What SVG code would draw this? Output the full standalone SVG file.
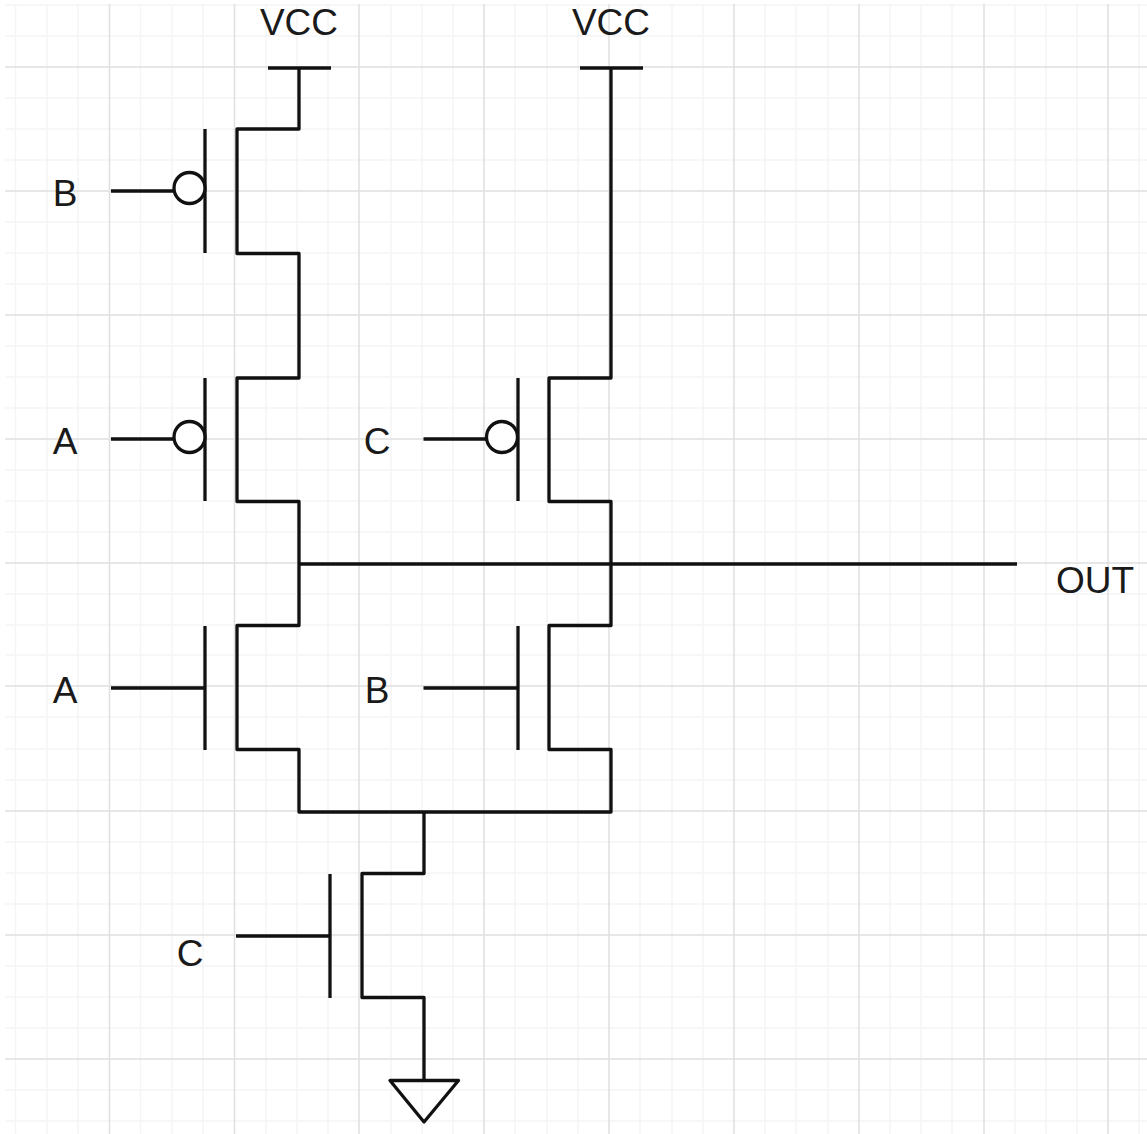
<svg xmlns="http://www.w3.org/2000/svg" width="1147" height="1134" viewBox="0 0 1147 1134">
<style>
.minor{stroke:#f5f5f5;stroke-width:1.5;fill:none}
.major{stroke:#e0e0e0;stroke-width:1.5;fill:none}
.w{stroke:#111;stroke-width:3.300;fill:none;stroke-linejoin:round}
.bubble{stroke:#111;stroke-width:3.300;fill:#fff}
text{font-family:"Liberation Sans",Arial,sans-serif;font-size:37px;fill:#1a1a1a;text-anchor:middle}
</style>
<rect width="1147" height="1134" fill="#fff"/>
<g id="grid">
<path class="minor" d="M15.5 4V1134M47 4V1134M78 4V1134M140.500 4V1134M172 4V1134M203 4V1134M266 4V1134M297 4V1134M328 4V1134M391 4V1134M422 4V1134M453 4V1134M515 4V1134M547 4V1134M578 4V1134M640 4V1134M672 4V1134M703 4V1134M765 4V1134M796 4V1134M828 4V1134M890 4V1134M921 4V1134M952 4V1134M1015 4V1134M1046 4V1134M1077 4V1134M1139 4V1134M5 5H1147M5 36H1147M5 98H1147M5 129H1147M5 160H1147M5 222H1147M5 253H1147M5 284H1147M5 346H1147M5 377H1147M5 408H1147M5 470H1147M5 501H1147M5 532H1147M5 594H1147M5 625H1147M5 655H1147M5 717H1147M5 749H1147M5 780H1147M5 842H1147M5 873H1147M5 904H1147M5 966H1147M5 997H1147M5 1028H1147M5 1090H1147M5 1121H1147"/>
<path class="major" d="M109.500 4V1134M234.500 4V1134M359 4V1134M484 4V1134M609 4V1134M734 4V1134M859 4V1134M984 4V1134M1108 4V1134M5 67H1147M5 191H1147M5 315H1147M5 439H1147M5 563H1147M5 686H1147M5 811H1147M5 935H1147M5 1059H1147"/>
</g>
<g id="connectors">
<path class="w" d="M299 68V129H237V253.500H299V378H237V501.500H299V625.500H237V749.500H299V812H611V749.500H549V625.500H611V501.500H549V378H611V68"/>
<path class="w" d="M299 564H1017"/>
<path class="w" d="M424 812V873.500H362V997.500H424V1080"/>
<path class="w" d="M111 191H174M111 439H174M423.500 439H486M111 688H205M423.500 688H518M236 936H330"/>
</g>
<g id="vcc1"><path class="w" d="M268 68H331"/><text x="299" y="34.500">VCC</text></g>
<g id="vcc2"><path class="w" d="M580 68H643"/><text x="611" y="34.500">VCC</text></g>
<g id="m-b-p"><path class="w" d="M205 129V253"/><circle class="bubble" cx="189.500" cy="188" r="15.500"/><text x="65" y="206">B</text></g>
<g id="m-a-p"><path class="w" d="M205 378V501"/><circle class="bubble" cx="189.500" cy="437" r="15.500"/><text x="65" y="454">A</text></g>
<g id="m-c-p"><path class="w" d="M518 378V501"/><circle class="bubble" cx="502" cy="437" r="15.500"/><text x="377" y="454">C</text></g>
<g id="m-a-n"><path class="w" d="M205 626V750"/><text x="65" y="702.500">A</text></g>
<g id="m-b-n"><path class="w" d="M518 626V750"/><text x="377" y="702.500">B</text></g>
<g id="m-c-n"><path class="w" d="M330 874V998"/><text x="190" y="965.500">C</text></g>
<g id="out"><text x="1095" y="593">OUT</text></g>
<g id="gnd"><path class="w" d="M390 1080.500H458.500L424 1122Z"/></g>
</svg>
